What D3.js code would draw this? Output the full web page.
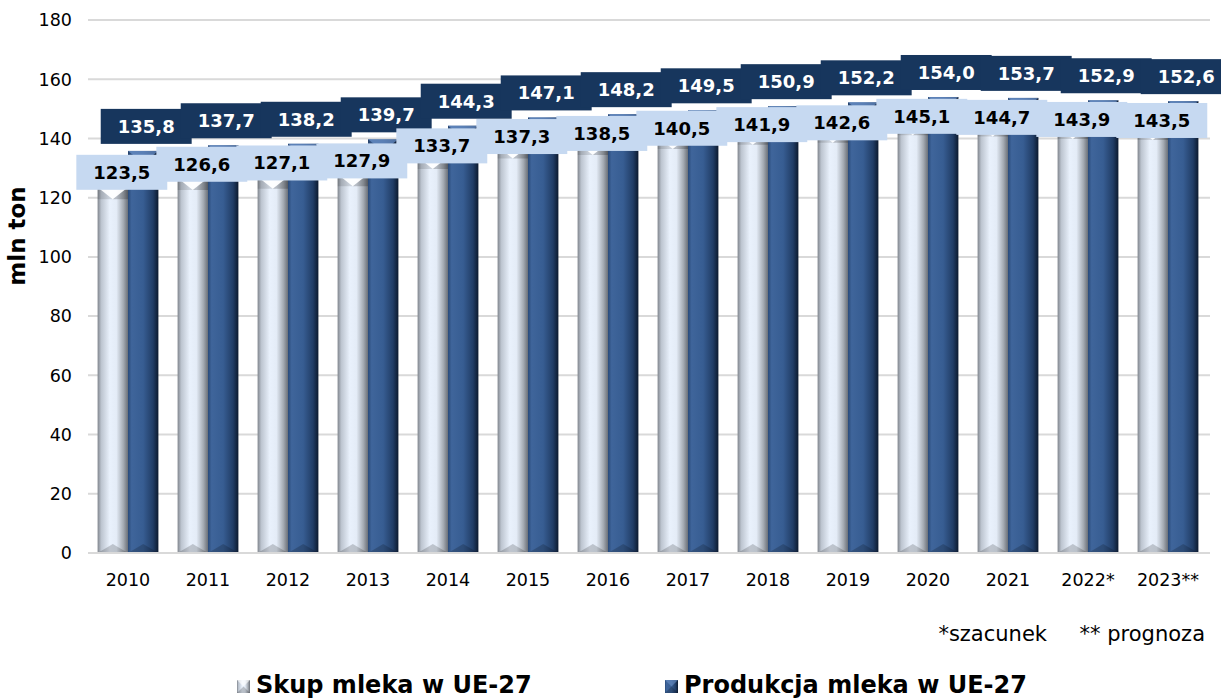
<!DOCTYPE html>
<html>
<head>
<meta charset="utf-8">
<script src="https://cdn.jsdelivr.net/npm/d3@7"></script>
<style>
  body { margin: 0; background: #fff; }
  text { font-family: "DejaVu Sans", Verdana, sans-serif; }
</style>
</head>
<body>
<svg width="1221" height="700"></svg>
<script>
var years = ["2010", "2011", "2012", "2013", "2014", "2015", "2016", "2017", "2018", "2019", "2020", "2021", "2022*", "2023**"];
var skup = [123.5, 126.6, 127.1, 127.9, 133.7, 137.3, 138.5, 140.5, 141.9, 142.6, 145.1, 144.7, 143.9, 143.5];
var produkcja = [135.8, 137.7, 138.2, 139.7, 144.3, 147.1, 148.2, 149.5, 150.9, 152.2, 154.0, 153.7, 152.9, 152.6];
var yTicks = [0, 20, 40, 60, 80, 100, 120, 140, 160, 180];
var seriesNames = ["Skup mleka w UE-27", "Produkcja mleka w UE-27"];

var svg = d3.select("svg");

var x = d3.scaleBand().domain(years).range([88, 1208]).paddingInner(0.24).paddingOuter(0.12);
var x1 = d3.scaleBand().domain([0, 1]).range([0, x.bandwidth()]);
var y = d3.scaleLinear().domain([0, 180]).range([553, 20]);

var fmt = function(v) { return d3.format(".1f")(v).replace(".", ","); };

// gradients
var defs = svg.append("defs");
function grad(id, stops) {
  var g = defs.append("linearGradient").attr("id", id).attr("x1", "0").attr("x2", "1").attr("y1", "0").attr("y2", "0");
  stops.forEach(function(s) { g.append("stop").attr("offset", s[0]).attr("stop-color", s[1]); });
}
grad("gLight", [["0%", "#80858d"], ["12%", "#bcc4cf"], ["40%", "#e9f1fc"], ["62%", "#e4ecf7"], ["85%", "#a4aab2"], ["100%", "#6b7078"]]);
grad("gDark", [["0%", "#294a79"], ["12%", "#3f659b"], ["50%", "#375d92"], ["82%", "#213d66"], ["100%", "#0c1a2f"]]);

// grid
svg.append("g").selectAll("line").data(yTicks).enter().append("line")
    .attr("x1", 88).attr("x2", 1210)
    .attr("y1", function(d) { return y(d); }).attr("y2", function(d) { return y(d); })
    .attr("stroke", "#d9d9d9").attr("stroke-width", 2);

// y axis labels
svg.append("g").selectAll("text").data(yTicks).enter().append("text")
    .attr("x", 72).attr("y", function(d) { return y(d); }).attr("dy", "0.36em")
    .attr("text-anchor", "end").attr("font-size", 17.5).attr("fill", "#000")
    .text(function(d) { return d; });

svg.append("text")
    .attr("transform", "translate(25,236) rotate(-90)")
    .attr("text-anchor", "middle").attr("font-size", 23).attr("font-weight", "bold")
    .text("mln ton");

// x labels
svg.append("g").selectAll("text").data(years).enter().append("text")
    .attr("x", function(d) { return x(d) + x.bandwidth() / 2; }).attr("y", 586)
    .attr("text-anchor", "middle").attr("font-size", 17.5)
    .text(function(d) { return d; });

// bars
function drawBar(g, bx, top, w, bottom, kind) {
  g.append("rect").attr("x", bx).attr("y", top).attr("width", w).attr("height", bottom - top)
      .attr("fill", kind === 0 ? "url(#gLight)" : "url(#gDark)");
  var b = Math.min(12, (bottom - top) / 2);
  // top bevel
  g.append("polygon")
      .attr("points", [[bx, top], [bx + w, top], [bx + w / 2, top + b]].join(" "))
      .attr("fill", kind === 0 ? "#ffffff" : "#6a8fc4").attr("opacity", kind === 0 ? 0.9 : 0.7);
  g.append("polygon")
      .attr("points", [[bx, top], [bx + w / 2, top + b], [bx, top + b]].join(" "))
      .attr("fill", "#000").attr("opacity", 0.12);
  g.append("polygon")
      .attr("points", [[bx + w, top], [bx + w / 2, top + b], [bx + w, top + b]].join(" "))
      .attr("fill", "#000").attr("opacity", 0.2);
  // bottom bevel
  g.append("polygon")
      .attr("points", [[bx, bottom], [bx + w, bottom], [bx + w / 2, bottom - 9]].join(" "))
      .attr("fill", "#000").attr("opacity", 0.18);
}

var barG = svg.append("g");
years.forEach(function(yr, i) {
  drawBar(barG, x(yr) + x1(0), y(skup[i]), x1.bandwidth(), y(0), 0);
  drawBar(barG, x(yr) + x1(1), y(produkcja[i]), x1.bandwidth(), y(0), 1);
});

// axis line
svg.append("line").attr("x1", 88).attr("x2", 1210).attr("y1", y(0)).attr("y2", y(0))
    .attr("stroke", "#d9d9d9").attr("stroke-width", 2);

// data labels
function drawLabels(vals, series, fill, color, dxOff, dyFn) {
  var g = svg.append("g");
  vals.forEach(function(v, i) {
    var cx = x(years[i]) + x1(series) + x1.bandwidth() / 2 + dxOff;
    var cy = y(v) + dyFn(v);
    var lg = g.append("g");
    var r = lg.append("rect").attr("fill", fill);
    var t = lg.append("text").attr("x", cx).attr("y", cy).attr("dy", "0.36em")
        .attr("text-anchor", "middle").attr("font-size", 18).attr("font-weight", "bold")
        .attr("fill", color).text(fmt(v));
    var tw = t.node().getComputedTextLength();
    r.attr("x", cx - tw / 2 - 17).attr("y", cy - 17.5).attr("width", tw + 34).attr("height", 35);
  });
}
drawLabels(produkcja, 1, "#17365d", "#ffffff", 3, function() { return -24.5; });
drawLabels(skup, 0, "#c6d9f1", "#000000", 9, function(v) { return -15 + 0.37 * (v - skup[0]); });

// footnote
svg.append("text").attr("x", 1047).attr("y", 641).attr("text-anchor", "end").attr("font-size", 21).text("*szacunek");
svg.append("text").attr("x", 1205).attr("y", 641).attr("text-anchor", "end").attr("font-size", 21).text("** prognoza");

// legend
var legX = [237, 665];
seriesNames.forEach(function(name, i) {
  var lg = svg.append("g");
  var s = 13, lx = legX[i], ly = 680;
  lg.append("rect").attr("x", lx).attr("y", ly).attr("width", s).attr("height", s)
      .attr("fill", i === 0 ? "url(#gLight)" : "url(#gDark)");
  lg.append("polygon").attr("points", [[lx, ly], [lx + s, ly], [lx + s / 2, ly + s / 2]].join(" "))
      .attr("fill", i === 0 ? "#fff" : "#6a8fc4").attr("opacity", 0.6);
  lg.append("polygon").attr("points", [[lx, ly + s], [lx + s, ly + s], [lx + s / 2, ly + s / 2]].join(" "))
      .attr("fill", "#000").attr("opacity", 0.2);
  lg.append("text").attr("x", lx + 19).attr("y", 693).attr("font-size", 24).attr("font-weight", "bold")
      .text(name);
});
</script>
</body>
</html>
